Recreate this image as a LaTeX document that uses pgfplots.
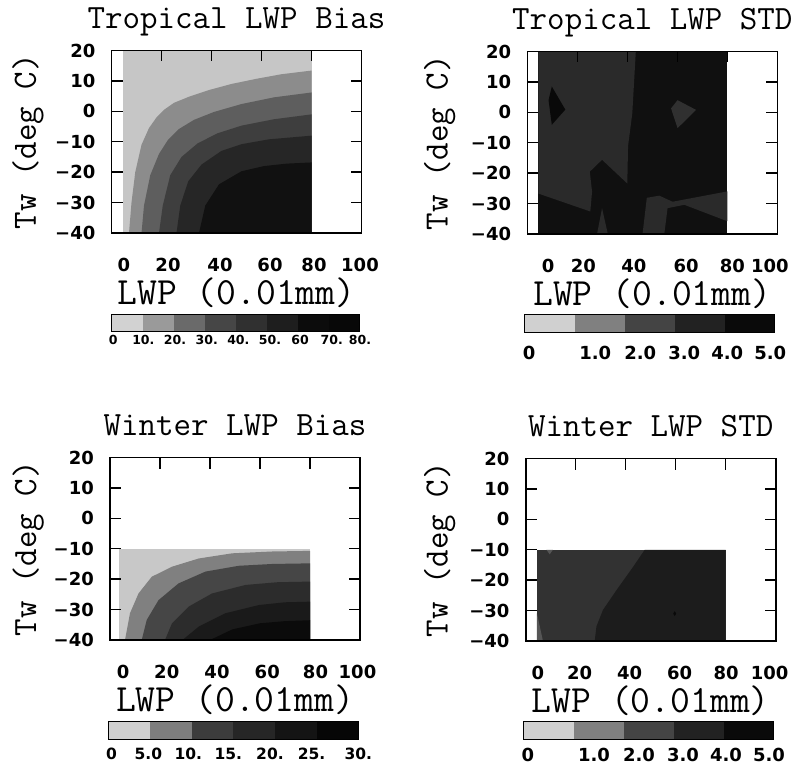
\documentclass[border=0pt]{standalone}
\usepackage{fontspec}
\usepackage{pgfplots}
\pgfplotsset{compat=1.18}
\newfontfamily\tickfont{DejaVu Sans}
\newcommand\tfont{\fontsize{18}{20}\selectfont\tickfont\bfseries}
\newcommand\ttl{\fontsize{34}{40}\selectfont\ttfamily}
\newcommand\xlab{\fontsize{38.5}{44}\selectfont\ttfamily}
\newcommand\cbA{\fontsize{12.5}{14}\selectfont\tickfont\bfseries}
\newcommand\cbB{\fontsize{18}{20}\selectfont\tickfont\bfseries}
\newcommand\cbC{\fontsize{15.5}{18}\selectfont\tickfont\bfseries}

% panel 1 regions
\definecolor{pa1}{HTML}{C6C6C6}
\definecolor{pa2}{HTML}{8C8C8C}
\definecolor{pa3}{HTML}{5E5E5E}
\definecolor{pa4}{HTML}{3E3E3E}
\definecolor{pa5}{HTML}{262626}
\definecolor{pa6}{HTML}{111111}
% std regions
\definecolor{sL}{HTML}{2A2A2A}
\definecolor{sD}{HTML}{101010}
\definecolor{sDD}{HTML}{090909}
\definecolor{sM}{HTML}{303030}
% winter bias
\definecolor{pc1}{HTML}{C8C8C8}
\definecolor{pc2}{HTML}{808080}
\definecolor{pc3}{HTML}{464646}
\definecolor{pc4}{HTML}{2C2C2C}
\definecolor{pc5}{HTML}{1A1A1A}
\definecolor{pc6}{HTML}{0B0B0B}
% winter std
\definecolor{wL}{HTML}{323232}
\definecolor{wD}{HTML}{1C1C1C}
\definecolor{wS}{HTML}{565656}
% colorbars
\definecolor{ca1}{HTML}{D2D2D2}
\definecolor{ca2}{HTML}{9A9A9A}
\definecolor{ca3}{HTML}{6A6A6A}
\definecolor{ca4}{HTML}{464646}
\definecolor{ca5}{HTML}{303030}
\definecolor{ca6}{HTML}{1E1E1E}
\definecolor{ca7}{HTML}{0C0C0C}
\definecolor{ca8}{HTML}{080808}
\definecolor{cb1}{HTML}{D0D0D0}
\definecolor{cb2}{HTML}{808080}
\definecolor{cb3}{HTML}{444444}
\definecolor{cb4}{HTML}{222222}
\definecolor{cb5}{HTML}{0A0A0A}
\definecolor{cc1}{HTML}{D0D0D0}
\definecolor{cc2}{HTML}{7E7E7E}
\definecolor{cc3}{HTML}{3C3C3C}
\definecolor{cc4}{HTML}{262626}
\definecolor{cc5}{HTML}{141414}
\definecolor{cc6}{HTML}{060606}

\pgfplotsset{
 geom/.style={anchor=south west, scale only axis, width=250pt, height=182.5pt,
   xmin=0,xmax=100,ymin=-40,ymax=20},
 panel/.style={geom,
   axis on top,
   xtick={20,40,60,80}, xticklabels={}, xtick pos=right,
   ytick={-40,-30,...,20}, yticklabels={−40,−30,−20,−10,0,10,20},
   ytick pos=both, yticklabel pos=left,
   tick align=inside, major tick length=11pt,
   tick style={black, line width=1.4pt},
   axis line style={line width=1.6pt},
   ticklabel style={font=\tfont},
   yticklabel style={anchor=east, inner sep=0pt, xshift=-16pt},
   title style={font=\ttl, at={(axis description cs:0.5,1)}, anchor=base, yshift=16pt},
   xlabel style={font=\xlab, at={(axis description cs:0.5,0)}, anchor=base, yshift=-72pt},
   ylabel style={font=\ttl, anchor=center},
   xlabel={LWP (0.01mm)}, ylabel={Tw (deg C)},
 },
 lab/.style={geom, axis line style={draw=none}, ytick=\empty,
   tick style={draw=none}, xtick pos=left,
   xticklabels={0,20,40,60,80,100},
   ticklabel style={font=\tfont},
   xticklabel style={anchor=base, yshift=-39pt}},
 cbar/.style={anchor=south west, scale only axis, width=250pt, height=17.5pt,
   ymin=0, ymax=1, ytick=\empty, tick style={draw=none}, axis on top,
   axis line style={line width=1pt}, xtick pos=left,
   xticklabel style={anchor=base}},
}

\begin{document}
\begin{tikzpicture}
\path (0pt,0pt) rectangle (806pt,771pt);

% ---------- Panel 1: Tropical LWP Bias ----------
\begin{axis}[panel, at={(111.5pt,538pt)}, title={Tropical LWP Bias},
  ylabel style={at={(axis description cs:-0.334,0.5)}}]
\addplot[fill=pa1, draw=none] coordinates {(4.7,-40) (4.7,20) (80,20) (80,-40)};
\addplot[fill=pa2, draw=none] coordinates {(7,-40) (8,-30) (9.5,-20) (12,-11) (15,-5.5) (18,-2) (21,0.5) (25,2.8) (31,4.8) (39,7) (48,9) (58,10.7) (68,12.2) (80,13.4) (80,-40)};
\addplot[fill=pa3, draw=none] coordinates {(12,-40) (13,-31) (15.5,-21) (19,-14) (22.5,-9.5) (27,-5.8) (33,-2.8) (41,-0.2) (52,2.4) (65,4.6) (80,6.2) (80,-40)};
\addplot[fill=pa4, draw=none] coordinates {(19,-40) (20.5,-31) (23.5,-21) (28,-15) (34.5,-10.5) (42.5,-7.2) (52,-4.7) (65,-2.6) (80,-1) (80,-40)};
\addplot[fill=pa5, draw=none] coordinates {(26,-40) (27.5,-31) (30.7,-23) (36,-17.5) (44,-13) (52,-10.8) (63,-9.2) (80,-8) (80,-40)};
\addplot[fill=pa6, draw=none] coordinates {(35,-40) (37.5,-31) (43,-24) (52,-19.7) (61,-18) (70,-17.2) (80,-16.8) (80,-40)};
\end{axis}

% ---------- Panel 2: Tropical LWP STD ----------
\begin{axis}[panel, at={(527.3pt,537pt)}, title={Tropical LWP STD},
  ylabel style={at={(axis description cs:-0.35,0.5)}}]
\addplot[fill=sD, draw=none] coordinates {(4.4,-40) (4.4,20) (80,20) (80,-40)};
\addplot[fill=sL, draw=none] coordinates {(4.4,20) (43.4,20) (42,-0.3) (40.3,-11.1) (40,-23.4) (29.9,-15.6) (25,-19.5) (25.9,-26.1) (25.2,-32.6) (4.4,-26.7)};
\addplot[fill=sL, draw=none] coordinates {(27.9,-40) (29.9,-31.5) (32.2,-40)};
\addplot[fill=sDD, draw=none] coordinates {(8.5,4) (9.8,8.5) (15.2,0.9) (9.8,-4.1)};
\addplot[fill=sM, draw=none] coordinates {(57.5,1.3) (60.1,4) (67.5,0.8) (60.1,-5.2)};
\addplot[fill=sL, draw=none] coordinates {(46.1,-40) (47.8,-28.1) (52.8,-27.4) (58.1,-29.4) (80,-26) (80,-35.8) (62.8,-30.4) (56.1,-31.5) (54.8,-40)};
\end{axis}

% ---------- Panel 3: Winter LWP Bias ----------
\begin{axis}[panel, at={(110pt,131pt)}, title={Winter LWP Bias},
  ylabel style={at={(axis description cs:-0.327,0.5)}}]
\addplot[fill=pc1, draw=none] coordinates {(3.5,-40) (3.5,-10) (80,-10) (80,-40)};
\addplot[fill=pc2, draw=none] coordinates {(6,-40) (8,-31.2) (11.4,-24.7) (16.7,-19.2) (24.8,-15.9) (35.5,-13.2) (48.9,-11.5) (65,-10.9) (80,-10.7) (80,-40)};
\addplot[fill=pc3, draw=none] coordinates {(12.7,-40) (14.7,-33.4) (19.4,-26.9) (27.4,-21.4) (38.2,-17.5) (51.5,-15.6) (65,-15) (80,-14.8) (80,-40)};
\addplot[fill=pc4, draw=none] coordinates {(22,-40) (24.8,-34.5) (31.5,-29) (40.8,-24.7) (54.2,-21.9) (67,-21) (80,-20.8) (80,-40)};
\addplot[fill=pc5, draw=none] coordinates {(29,-40) (35.5,-35.6) (46.2,-31.2) (59.6,-28.5) (70,-27.6) (80,-27.4) (80,-40)};
\addplot[fill=pc6, draw=none] coordinates {(40,-40) (49,-36.5) (60,-34.5) (70,-33.8) (80,-33.5) (80,-40)};
\end{axis}

% ---------- Panel 4: Winter LWP STD ----------
\begin{axis}[panel, at={(525.7pt,130pt)}, title={Winter LWP STD},
  ylabel style={at={(axis description cs:-0.344,0.5)}}]
\addplot[fill=wL, draw=none] coordinates {(4.5,-40) (4.5,-10) (80,-10) (80,-40)};
\addplot[fill=wD, draw=none] coordinates {(47.6,-10) (80,-10) (80,-40) (27.6,-40) (28.3,-35.2) (30.9,-29.8) (36.3,-23.3) (42.9,-15.7)};
\addplot[fill=wS, draw=none] coordinates {(4.5,-30.9) (6.9,-40) (4.5,-40)};
\addplot[fill=wS, draw=none] coordinates {(8.3,-10) (9.6,-11.5) (10.9,-10)};
\addplot[fill=sDD, draw=none] coordinates {(59,-31) (59.6,-30.2) (60.2,-31) (59.6,-31.8)};
\end{axis}

% ---------- x tick labels (as set in the reference) ----------
\begin{axis}[lab, at={(111.5pt,538pt)}, xtick={5,22.6,43.4,63.4,81,99.4}]
\end{axis}
\begin{axis}[lab, at={(527.3pt,537pt)}, xtick={8.3,22.4,42.6,63.5,82,97}]
\end{axis}
\begin{axis}[lab, at={(110pt,131pt)}, xtick={5.3,22.7,42.8,62.9,82.2,99}]
\end{axis}
\begin{axis}[lab, at={(525.7pt,130pt)}, xtick={4.9,21.6,41.6,61.6,80.2,97.6}]
\end{axis}

% ---------- colour bars ----------
\begin{axis}[cbar, at={(111.7pt,439pt)}, width=248.3pt, height=17pt, xmin=0, xmax=80,
  xtick={0.5,10.2,20.4,30.6,40.8,51,60.7,70.9,80},
  xticklabels={0,10.,20.,30.,40.,50.,60,70.,80.},
  xticklabel style={font=\cbA, yshift=-13pt}]
\addplot[fill=ca1, draw=none] coordinates {(0,0) (10,0) (10,1) (0,1)};
\addplot[fill=ca2, draw=none] coordinates {(10,0) (20,0) (20,1) (10,1)};
\addplot[fill=ca3, draw=none] coordinates {(20,0) (30,0) (30,1) (20,1)};
\addplot[fill=ca4, draw=none] coordinates {(30,0) (40,0) (40,1) (30,1)};
\addplot[fill=ca5, draw=none] coordinates {(40,0) (50,0) (50,1) (40,1)};
\addplot[fill=ca6, draw=none] coordinates {(50,0) (60,0) (60,1) (50,1)};
\addplot[fill=ca7, draw=none] coordinates {(60,0) (70,0) (70,1) (60,1)};
\addplot[fill=ca8, draw=none] coordinates {(70,0) (80,0) (80,1) (70,1)};
\end{axis}

\begin{axis}[cbar, at={(524.7pt,438pt)}, width=250pt, height=18pt, xmin=0, xmax=5,
  xtick={0.09,1.41,2.31,3.19,4.05,4.91},
  xticklabels={0,1.0,2.0,3.0,4.0,5.0},
  xticklabel style={font=\cbB, yshift=-27pt}]
\addplot[fill=cb1, draw=none] coordinates {(0,0) (1,0) (1,1) (0,1)};
\addplot[fill=cb2, draw=none] coordinates {(1,0) (2,0) (2,1) (1,1)};
\addplot[fill=cb3, draw=none] coordinates {(2,0) (3,0) (3,1) (2,1)};
\addplot[fill=cb4, draw=none] coordinates {(3,0) (4,0) (4,1) (3,1)};
\addplot[fill=cb5, draw=none] coordinates {(4,0) (5,0) (5,1) (4,1)};
\end{axis}

\begin{axis}[cbar, at={(108.3pt,31pt)}, width=250pt, height=18.3pt, xmin=0, xmax=30,
  xtick={0.4,4.8,9.6,14.4,19.4,24.4,30},
  xticklabels={0,5.0,10.,15.,20.,25.,30.},
  xticklabel style={font=\cbC, yshift=-20pt}]
\addplot[fill=cc1, draw=none] coordinates {(0,0) (5,0) (5,1) (0,1)};
\addplot[fill=cc2, draw=none] coordinates {(5,0) (10,0) (10,1) (5,1)};
\addplot[fill=cc3, draw=none] coordinates {(10,0) (15,0) (15,1) (10,1)};
\addplot[fill=cc4, draw=none] coordinates {(15,0) (20,0) (20,1) (15,1)};
\addplot[fill=cc5, draw=none] coordinates {(20,0) (25,0) (25,1) (20,1)};
\addplot[fill=cc6, draw=none] coordinates {(25,0) (30,0) (30,1) (25,1)};
\end{axis}

\begin{axis}[cbar, at={(523.5pt,31pt)}, width=250pt, height=18pt, xmin=0, xmax=5,
  xtick={0.09,1.41,2.31,3.19,4.05,4.91},
  xticklabels={0,1.0,2.0,3.0,4.0,5.0},
  xticklabel style={font=\cbB, yshift=-21.7pt}]
\addplot[fill=cb1, draw=none] coordinates {(0,0) (1,0) (1,1) (0,1)};
\addplot[fill=cb2, draw=none] coordinates {(1,0) (2,0) (2,1) (1,1)};
\addplot[fill=cb3, draw=none] coordinates {(2,0) (3,0) (3,1) (2,1)};
\addplot[fill=cb4, draw=none] coordinates {(3,0) (4,0) (4,1) (3,1)};
\addplot[fill=cb5, draw=none] coordinates {(4,0) (5,0) (5,1) (4,1)};
\end{axis}
\end{tikzpicture}
\end{document}
